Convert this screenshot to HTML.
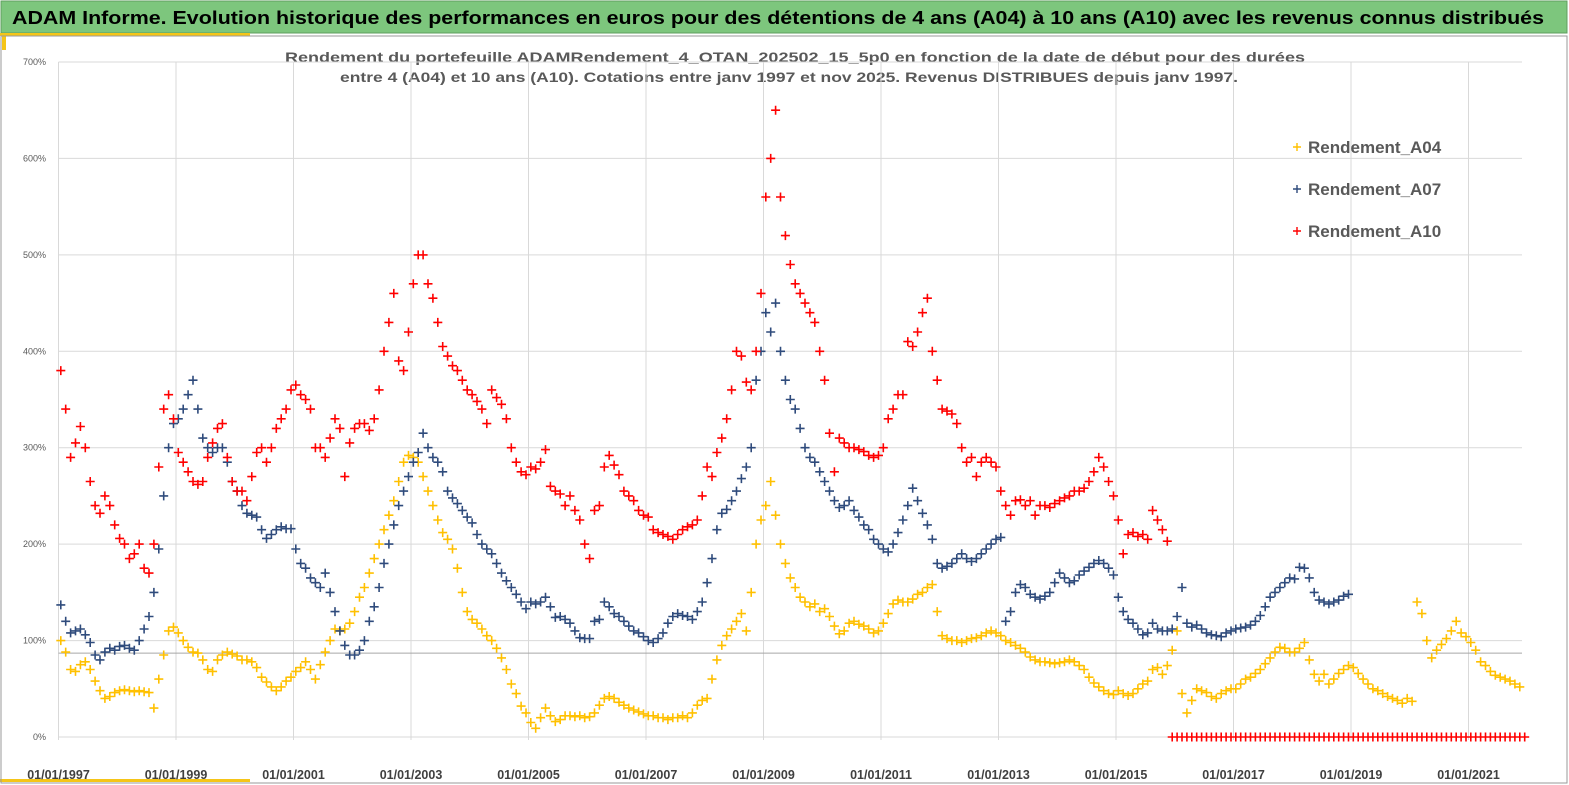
<!DOCTYPE html>
<html>
<head>
<meta charset="utf-8">
<style>
  html,body{margin:0;padding:0;background:#fff;}
  body{width:1569px;height:785px;overflow:hidden;font-family:"Liberation Sans",sans-serif;}
  svg{display:block;}
</style>
</head>
<body>
<svg id="chart" width="1569" height="785" viewBox="0 0 1569 785">
  <rect x="0" y="0" width="1569" height="785" fill="#ffffff"/>
  <rect x="1" y="1" width="1566" height="32" fill="#7dc67d" stroke="#5f9f5f" stroke-width="1"/>
  <text x="12" y="24" font-size="18" font-weight="bold" fill="#000" textLength="1532" lengthAdjust="spacingAndGlyphs">ADAM Informe. Evolution historique des performances en euros pour des détentions de 4 ans (A04) à 10 ans (A10) avec les revenus connus distribués</text>
  <rect x="0" y="33" width="250" height="3" fill="#f5c518"/>
  <rect x="2" y="36" width="4" height="14" fill="#f5c518"/>
  <rect x="0" y="779" width="250" height="3" fill="#f5c518"/>
  <rect x="1" y="36" width="1566" height="747" fill="none" stroke="#9a9a9a" stroke-width="1"/>
  <text x="795" y="62" font-size="14" font-weight="bold" fill="#595959" text-anchor="middle" textLength="1020" lengthAdjust="spacingAndGlyphs">Rendement du portefeuille ADAMRendement_4_OTAN_202502_15_5p0  en fonction de la date de début pour des durées</text>
  <text x="789" y="82" font-size="14" font-weight="bold" fill="#595959" text-anchor="middle" textLength="898" lengthAdjust="spacingAndGlyphs">entre 4 (A04) et 10 ans (A10). Cotations entre janv 1997 et nov 2025. Revenus DISTRIBUES depuis janv 1997.</text>
  <g id="grid"></g>
  <g id="axes"></g>
  <g id="series"></g>
  <g id="legend"></g>
</svg>
<script>
const yTicks = [0,100,200,300,400,500,600,700];
const xTickYears = [1997,1999,2001,2003,2005,2007,2009,2011,2013,2015,2017,2019,2021];
const refLineValue = 87;
const seriesNames = ["Rendement_A04","Rendement_A07","Rendement_A10"];
const startYear = 1997;
const a04 = [
100,88,70,68,75,78,70,58,48,40,42,46,
48,49,48,47,48,47,46,30,60,85,110,114,
108,100,93,88,87,80,70,68,80,85,88,86,
84,80,80,78,72,62,57,52,48,52,58,62,
68,72,78,70,60,75,88,100,112,110,112,118,
130,145,155,170,185,200,215,230,245,265,285,292,
290,285,270,255,240,225,212,205,195,175,150,130,
122,118,112,105,100,92,82,70,55,45,32,25,
15,9,20,30,22,16,18,22,22,21,22,20,
21,25,33,40,42,40,36,33,30,28,26,24,
22,22,20,20,18,20,20,22,20,25,33,38,
40,60,80,95,105,112,120,128,110,150,200,225,
240,265,230,200,180,165,155,145,140,135,138,130,
133,125,115,107,110,118,120,117,115,112,108,110,
118,128,138,142,140,140,143,148,150,155,158,130,
105,102,100,100,98,100,102,103,105,108,110,108,
105,100,98,95,92,88,83,80,78,78,77,76,
77,78,80,78,74,70,62,56,52,48,45,44,
48,45,43,45,50,55,58,70,72,65,74,90,
110,45,25,38,50,48,46,42,40,45,48,50,
50,55,60,62,66,70,76,82,88,93,92,88,
88,92,98,80,65,58,65,55,60,66,70,74,
72,66,60,55,50,48,45,42,40,38,35,40,
37,140,128,100,82,90,96,102,110,120,108,104,
98,90,78,74,68,64,62,60,58,55,52];
const a07 = [
137,120,108,110,112,106,98,85,80,88,92,90,
94,95,92,90,100,112,125,150,195,250,300,325,
330,340,355,370,340,310,300,295,300,300,285,265,
255,240,232,230,228,215,206,210,215,218,216,216,
195,180,175,165,160,155,170,150,130,110,95,85,
85,90,100,120,135,155,180,200,220,240,255,270,
285,295,315,300,290,285,275,255,248,242,235,228,
222,210,200,195,190,180,170,162,155,148,140,133,
140,138,140,145,135,124,125,122,118,110,103,102,
102,120,122,140,135,128,125,120,115,110,108,104,
100,98,102,108,118,125,128,126,125,122,130,140,
160,185,215,232,236,245,255,268,280,300,370,400,
440,420,450,400,370,350,340,320,300,290,285,275,
265,255,245,238,240,245,235,228,220,215,205,200,
195,192,200,212,225,240,258,245,232,220,205,180,
175,177,180,185,190,185,182,185,190,195,200,205,
207,120,130,150,158,155,148,145,143,146,150,160,
170,165,160,162,168,172,176,180,183,180,175,168,
145,130,122,118,112,106,108,118,112,110,110,112,
125,155,118,114,116,112,108,106,105,104,108,110,
112,113,114,116,120,126,135,145,150,155,160,165,
164,176,175,165,150,142,140,138,140,142,146,148];
const a10 = [
380,340,290,305,322,300,265,240,232,250,240,220,
206,200,185,190,200,175,170,200,280,340,355,330,
295,285,275,265,262,265,290,305,320,325,290,265,
255,255,245,270,295,300,285,300,320,330,340,360,
365,355,350,340,300,300,290,310,330,320,270,305,
320,325,325,318,330,360,400,430,460,390,380,420,
470,500,500,470,455,430,405,395,385,380,370,360,
355,348,340,325,360,352,345,330,300,285,275,272,
280,278,285,298,260,255,252,240,250,235,225,200,
185,235,240,280,292,282,272,255,250,245,235,230,
228,215,212,210,208,205,210,215,218,220,225,250,
280,270,295,310,330,360,400,395,368,360,400,460,
560,600,650,560,520,490,470,460,450,440,430,400,
370,315,275,310,305,300,300,298,296,292,290,292,
300,330,340,355,355,410,405,420,440,455,400,370,
340,338,335,325,300,285,290,270,285,290,285,280,
255,240,230,245,246,240,245,230,240,240,238,242,
245,248,250,255,255,258,265,275,290,280,265,250,
225,190,210,212,208,210,205,235,225,215,203,0,
0,0,0,0,0,0,0,0,0,0,0,0,
0,0,0,0,0,0,0,0,0,0,0,0,
0,0,0,0,0,0,0,0,0,0,0,0,
0,0,0,0,0,0,0,0,0,0,0,0,
0,0,0,0,0,0,0,0,0,0,0,0,
0,0,0,0,0,0,0,0,0,0,0,0];

const NS = "http://www.w3.org/2000/svg";
const plotL = 58.5, plotR = 1522, y0 = 737, pxPer100 = 96.43, pxPerYear = 58.75;
function xScale(t){ return plotL + (t - 1997) * pxPerYear; }
function yScale(v){ return y0 - v * pxPer100 / 100; }
function mk(tag, attrs, parent){
  const e = document.createElementNS(NS, tag);
  for (const k in attrs) e.setAttribute(k, attrs[k]);
  parent.appendChild(e);
  return e;
}
const grid = document.getElementById('grid');
const axes = document.getElementById('axes');
yTicks.forEach(v => {
  const l = mk('line', {x1: plotL, x2: plotR, y1: yScale(v), y2: yScale(v), stroke: '#d9d9d9', 'stroke-width': 1}, grid);
  
  
  const t = mk('text', {x: 46, y: yScale(v) + 3, 'font-size': 9, fill: '#595959', 'text-anchor': 'end'}, axes);
  t.textContent = v + '%';
  
  
});
xTickYears.forEach(yr => {
  const x = xScale(yr);
  const l = mk('line', {x1: x, x2: x, y1: yScale(700), y2: y0 + 3, stroke: '#d9d9d9', 'stroke-width': 1}, grid);
  
  
  const t = mk('text', {x: x, y: 779, 'font-size': 12.5, 'font-weight': 'bold', fill: '#404040', 'text-anchor': 'middle'}, axes);
  t.textContent = '01/01/' + yr;
  
  
});
const ref = mk('line', {x1: plotL, x2: plotR, y1: yScale(refLineValue), y2: yScale(refLineValue), stroke: '#a6a6a6', 'stroke-width': 1}, grid);



function drawSeries(values, color, name){
  const g = mk('g', {}, document.getElementById('series'));
  
  
  let d = '';
  values.forEach((v, i) => {
    const x = xScale(startYear + i / 12 + 0.04);
    const y = yScale(v);
    d += 'M' + (x - 4.5).toFixed(1) + ' ' + y.toFixed(1) + 'h9M' + x.toFixed(1) + ' ' + (y - 4.5).toFixed(1) + 'v9';
  });
  const p = mk('path', {d: d, stroke: color, 'stroke-width': 1.6, fill: 'none'}, g);
  
  
}
drawSeries(a04, '#ffc000', 'series-a04');
drawSeries(a07, '#2f4b7c', 'series-a07');
drawSeries(a10, '#ff0000', 'series-a10');

const legend = document.getElementById('legend');
const legColors = ['#ffc000', '#2f4b7c', '#ff0000'];
seriesNames.forEach((n, i) => {
  const y = 147 + i * 42;
  const g = mk('g', {}, legend);
  
  
  const p = mk('path', {d: 'M1293 ' + y + 'h8M1297 ' + (y - 4) + 'v8', stroke: legColors[i], 'stroke-width': 1.4}, g);
  
  
  const t = mk('text', {x: 1308, y: y + 6, 'font-size': 17, 'font-weight': 'bold', fill: '#595959'}, g);
  t.textContent = n;
  
  
});
</script>
</body>
</html>
